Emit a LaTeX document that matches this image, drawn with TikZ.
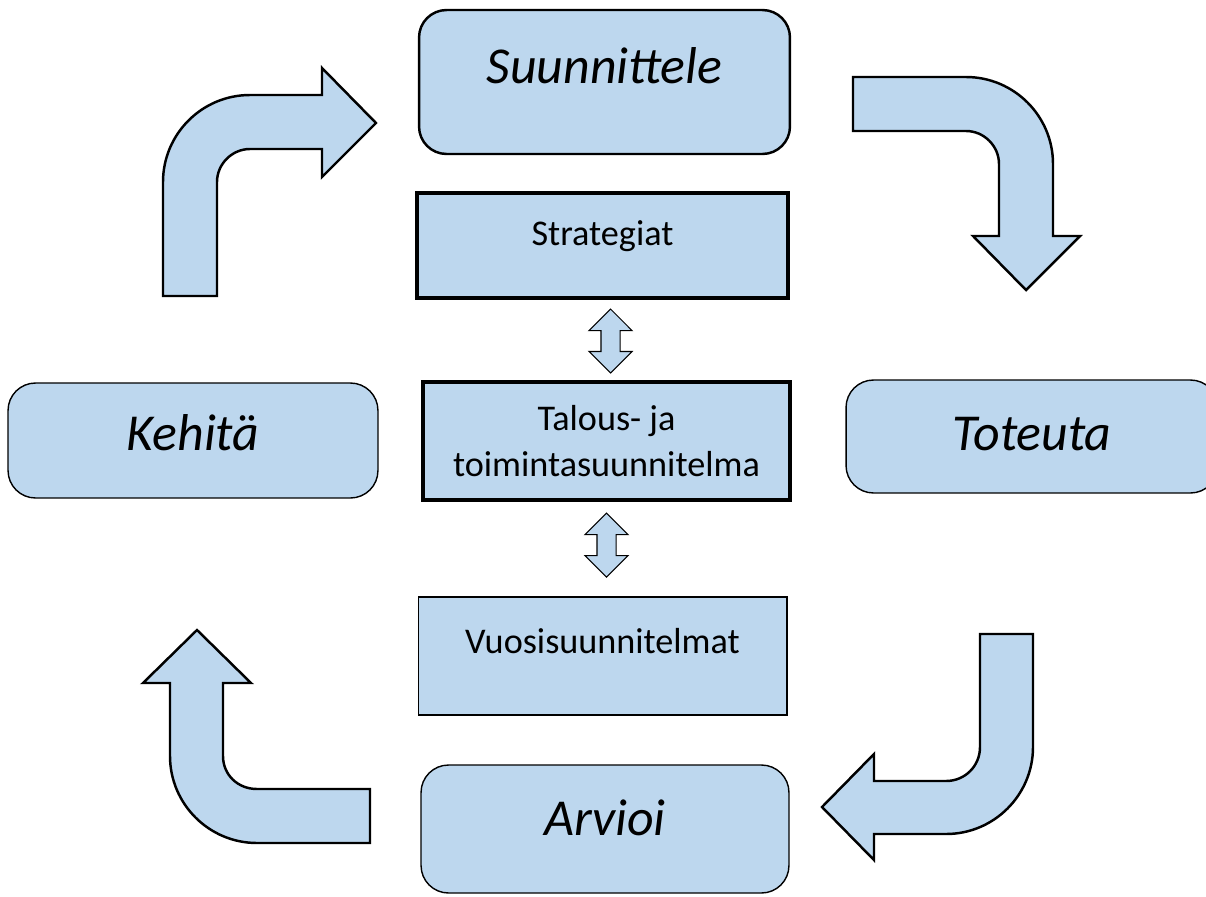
\documentclass[tikz,border=0pt]{standalone}
\usepackage{fontspec}
\setmainfont{Carlito}
\usepackage{tikz}
\usetikzlibrary{shapes.arrows,calc}
\definecolor{boxblue}{RGB}{189,215,238}

\begin{document}
\begin{tikzpicture}[x=0.02cm,y=-0.02cm,
  phase/.style={draw, fill=boxblue, rounded corners=0.55cm, line width=0.8pt, inner xsep=0pt, inner ysep=0pt, font=\fontsize{29.5}{35}\selectfont\itshape},
  plan/.style={draw, fill=boxblue, line width=0.6pt, inner xsep=0pt, inner ysep=0pt, font=\fontsize{20.6}{26.6}\selectfont},
  bentarrow/.style={draw, fill=boxblue, line width=1.4pt, line join=miter},
  twoway/.style={double arrow, draw, fill=boxblue, line width=0.6pt, rotate=90, inner xsep=0pt, inner ysep=0.18cm, minimum height=1.28cm, double arrow head extend=0.24cm, double arrow tip angle=90}]

\path[use as bounding box, clip] (0,0) rectangle (1206,896);

\node[phase, line width=1.4pt, minimum width=7.42cm, text height=1.46cm, text depth=1.42cm] (suunnittele) at (604.5,82) {Suunnittele};
\node[phase, minimum width=7.44cm, text height=1.4cm, text depth=0.86cm] (toteuta) at (1032,436.5) {Toteuta};
\node[phase, minimum width=7.36cm, text height=1.4cm, text depth=1.16cm] (arvioi) at (605,829) {Arvioi};
\node[phase, minimum width=7.4cm, text height=1.34cm, text depth=0.96cm] (kehita) at (193,440.5) {Kehitä};

\node[plan, line width=2pt, minimum width=7.42cm, text height=1.04cm, text depth=1.06cm] (strategiat) at (602.5,245.5) {Strategiat};
\node[plan, line width=2pt, minimum width=7.34cm, minimum height=2.36cm, align=center] (talous) at (606.5,441) {Talous- ja\\toimintasuunnitelma};
\node[plan, minimum width=7.38cm, text height=1.12cm, text depth=1.24cm] (vuosi) at (602.5,656) {Vuosisuunnitelmat};

\node[twoway] (ylanuoli) at ($(strategiat.south)!0.5!(talous.north)+(6,1)$) {};
\node[twoway] (alanuoli) at ($(talous.south)!0.5!(vuosi.north)+(2,-4)$) {};

\draw[bentarrow] (163,296) -- (163,182) .. controls (163,134) and (202,95) .. (250,95) -- (322,95) -- (322,68) -- (376,123) -- (322,177) -- (322,149) -- (250,149) .. controls (232,149) and (217,164) .. (217,182) -- (217,296) -- cycle;

\draw[bentarrow] (853,77) -- (966,77) .. controls (1014,77) and (1053,116) .. (1053,164) -- (1053,236) -- (1080,236) -- (1026,290) -- (973,236) -- (999,236) -- (999,164) .. controls (999,146) and (984,131) .. (966,131) -- (853,131) -- cycle;

\draw[bentarrow] (980,634) -- (1033,634) -- (1033,747) .. controls (1033,795) and (994,834) .. (946,834) -- (874,834) -- (874,860) -- (822,807) -- (874,754) -- (874,781) -- (946,781) .. controls (965,781) and (980,766) .. (980,747) -- cycle;

\draw[bentarrow] (370,789) -- (257,789) .. controls (238,789) and (223,775) .. (223,756) -- (223,683) -- (251,683) -- (197,630) -- (143,683) -- (170,683) -- (170,756) .. controls (170,804) and (209,843) .. (257,843) -- (370,843) -- cycle;
\end{tikzpicture}
\end{document}
